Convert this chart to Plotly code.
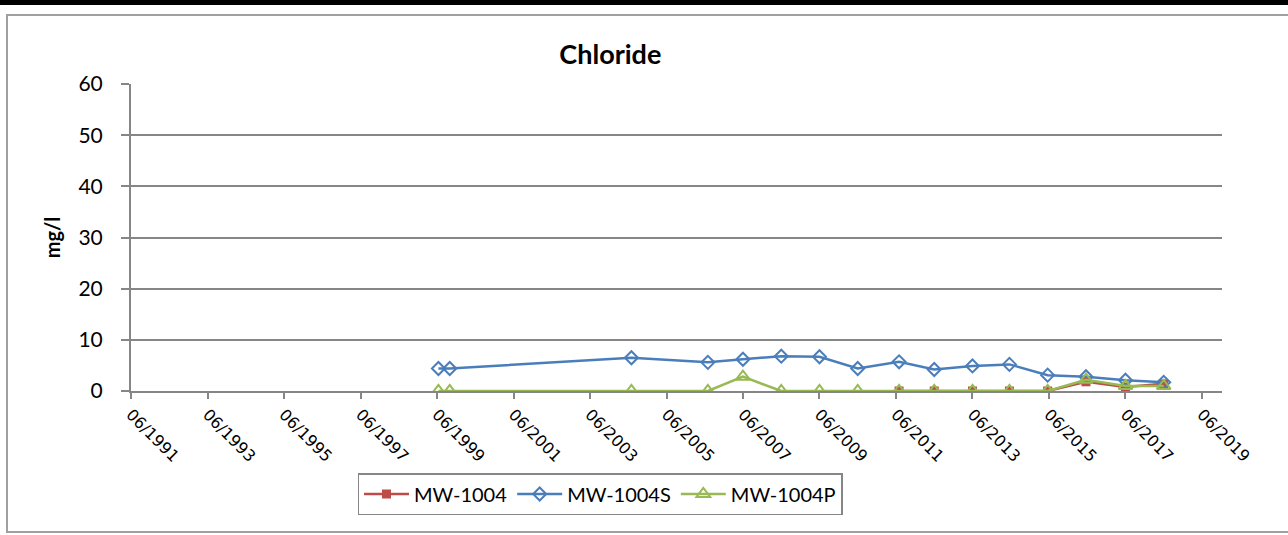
import plotly.graph_objects as go

# ---- data ----
dates_s = ["1999-06-15", "1999-10-01", "2004-07-01", "2006-07-01", "2007-06-01",
           "2008-06-01", "2009-06-01", "2010-06-01", "2011-07-01", "2012-06-01",
           "2013-06-01", "2014-05-20", "2015-05-20", "2016-05-20", "2017-06-01",
           "2018-06-01"]
mw1004s = [4.4, 4.4, 6.5, 5.6, 6.2, 6.8, 6.7, 4.4, 5.7, 4.2, 4.9, 5.2, 3.1, 2.8, 2.1, 1.7]
mw1004p = [0, 0, 0, 0, 2.8, 0, 0, 0, 0, 0, 0, 0, 0, 2.2, 1.0, 1.0]

dates_r = ["2011-07-01", "2012-06-01", "2013-06-01", "2014-05-20", "2015-05-20",
           "2016-05-20", "2017-06-01", "2018-06-01"]
mw1004 = [0, 0, 0, 0, 0, 1.8, 0.8, 1.4]

tick_dates = ["1991-06-01", "1993-06-01", "1995-06-01", "1997-06-01", "1999-06-01",
              "2001-06-01", "2003-06-01", "2005-06-01", "2007-06-01", "2009-06-01",
              "2011-06-01", "2013-06-01", "2015-06-01", "2017-06-01", "2019-06-01"]
tick_text = ["06/1991", "06/1993", "06/1995", "06/1997", "06/1999", "06/2001",
             "06/2003", "06/2005", "06/2007", "06/2009", "06/2011", "06/2013",
             "06/2015", "06/2017", "06/2019"]
y_ticks = [0, 10, 20, 30, 40, 50, 60]

RED = "#BE4B48"
BLUE = "#4A7EBB"
GREEN = "#98B954"
GRAY = "#868686"

fig = go.Figure()
fig.add_trace(go.Scatter(x=dates_r, y=mw1004, name="MW-1004", mode="lines+markers",
                         line=dict(color=RED, width=2.5),
                         marker=dict(symbol="square", size=9, color=RED)))
fig.add_trace(go.Scatter(x=dates_s, y=mw1004s, name="MW-1004S", mode="lines+markers",
                         line=dict(color=BLUE, width=2.5),
                         marker=dict(symbol="diamond-open", size=10, color=BLUE,
                                     line=dict(width=2, color=BLUE))))
fig.add_trace(go.Scatter(x=dates_s, y=mw1004p, name="MW-1004P", mode="lines+markers",
                         line=dict(color=GREEN, width=2.5),
                         marker=dict(symbol="triangle-up-open", size=12, color=GREEN,
                                     line=dict(width=2, color=GREEN))))

L, R, T, B = 131, 66, 84, 144
W, H = 1288, 535
pw, ph = W - L - R, H - T - B

def px_x(p):
    return (p - L) / pw

def px_y(p):
    return (H - B - p) / ph

fig.update_layout(
    width=W, height=H,
    margin=dict(l=L, r=R, t=T, b=B, pad=0),
    paper_bgcolor="white", plot_bgcolor="white",
    title=dict(text="<b>Chloride</b>", x=px_x(648), xanchor="center",
               y=1 - 55 / H, yanchor="middle",
               font=dict(family="Lato", size=27, color="black")),
    xaxis=dict(type="date", range=["1991-06-01", "2019-12-10"],
               tickvals=tick_dates, ticktext=tick_text, tickangle=45,
               tickfont=dict(family="DejaVu Sans", size=16, color="black"),
               showgrid=False, zeroline=False,
               showline=True, linecolor=GRAY, linewidth=2,
               ticks="outside", ticklen=6, tickwidth=2, tickcolor=GRAY),
    yaxis=dict(range=[0, 60], tickvals=y_ticks,
               tickfont=dict(family="Lato", size=21, color="black"),
               ticklabelstandoff=14,
               title=dict(text="<b>mg/l</b>", font=dict(family="Lato", size=20, color="black"),
                          standoff=12),
               showgrid=True, gridcolor=GRAY, gridwidth=1.5, zeroline=False,
               showline=True, linecolor=GRAY, linewidth=2,
               ticks="outside", ticklen=8, tickwidth=2, tickcolor=GRAY),
    legend=dict(orientation="h", x=px_x(600), xanchor="center",
                y=px_y(473), yanchor="top",
                bordercolor=GRAY, borderwidth=1.5, bgcolor="white",
                font=dict(family="Lato", size=20, color="black"),
                itemwidth=45),
    showlegend=True,
    shapes=[
        dict(type="rect", xref="paper", yref="paper",
             x0=px_x(7), x1=px_x(1300), y0=px_y(532), y1=px_y(15),
             line=dict(color="#A0A0A0", width=2), fillcolor="rgba(0,0,0,0)", layer="below"),
        dict(type="rect", xref="paper", yref="paper",
             x0=px_x(-5), x1=px_x(1300), y0=px_y(5), y1=px_y(-5),
             line=dict(width=0), fillcolor="black", layer="above"),
    ],
)

fig.write_html("out.html", config={"displayModeBar": False},
               post_script="document.body.style.margin='0';")
